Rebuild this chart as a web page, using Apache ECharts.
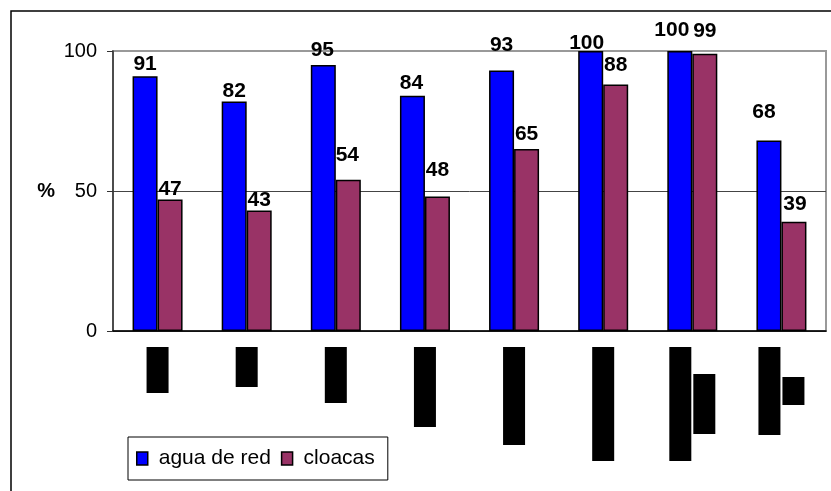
<!DOCTYPE html>
<html>
<head>
<meta charset="utf-8">
<script src="https://cdn.jsdelivr.net/npm/echarts@6/dist/echarts.min.js"></script>
<style>
  html, body { margin: 0; padding: 0; background: #fff; }
  #chart { width: 831px; height: 491px; }
</style>
</head>
<body>
<div id="chart"></div>
<script>
// category names are redacted (black boxes) in the original
const categories = ['Zona 1', 'Zona 2', 'Zona 3', 'Zona 4', 'Zona 5', 'Zona 6', 'Zona 7\nA', 'Zona 8\nB'];
const aguaDeRed = [91, 82, 95, 84, 93, 100, 100, 68];
const cloacas = [47, 43, 54, 48, 65, 88, 99, 39];
const yTicks = [0, 50, 100];

// styling: label nudges (as placed in the original) and length of the redaction boxes
const aguaOffsets = [[0, 0], [0, 1], [-1, -3], [-1, -1], [0, -14], [-4, 4], [-8, -9], [-5, -17]];
const cloacasOffsets = [[0, 1], [0, 1], [-1, -13], [0, -15], [0, -3], [0, -8], [0, -11], [1, -6]];
const boxLengths = [[46], [40], [56], [80], [98], [114], [114, 60], [88, 28]];

const FONT = "'Liberation Sans', Arial, sans-serif";

const rich = {};
boxLengths.forEach((lines, i) => {
  lines.forEach((len, j) => {
    rich['k' + i + '_' + j] = {
      width: len,
      height: 22,
      lineHeight: 24,
      backgroundColor: '#000',
      color: '#000',
      fontSize: 9,
      align: j === 0 ? 'right' : 'center'
    };
  });
});

function withOffsets(values, offsets) {
  return values.map((v, i) => ({ value: v, label: { offset: offsets[i] } }));
}

const chart = echarts.init(document.getElementById('chart'));

chart.setOption({
  animation: false,
  textStyle: { fontFamily: FONT },
  graphic: [{
    type: 'rect',
    z: -10,
    shape: { x: 11, y: 11, width: 2000, height: 2000 },
    style: { fill: 'none', stroke: '#000', lineWidth: 1.5 }
  }],
  grid: {
    left: 113, right: 5, top: 51, bottom: 160,
    show: true, borderColor: '#999', borderWidth: 2
  },
  legend: {
    left: 128, top: 437,
    padding: [11, 13, 11, 8],
    borderColor: '#000', borderWidth: 1,
    backgroundColor: '#fff',
    itemWidth: 11, itemHeight: 13, itemGap: 10,
    icon: 'rect',
    itemStyle: { borderColor: '#000', borderWidth: 1.5 },
    textStyle: { fontSize: 21, color: '#000', fontFamily: FONT, padding: [0, 0, 0, 6] },
    data: ['agua de red', 'cloacas']
  },
  xAxis: {
    type: 'category',
    data: categories,
    axisLine: { lineStyle: { color: '#000', width: 1.5 } },
    axisTick: { length: 6, lineStyle: { color: '#000', width: 1 } },
    axisLabel: {
      rotate: 90,
      margin: 16,
      interval: 0,
      rich: rich,
      formatter: function (name, idx) {
        return name.split('\n').map((line, j) => '{k' + idx + '_' + j + '|' + line + '}').join('\n');
      }
    }
  },
  yAxis: {
    type: 'value',
    min: yTicks[0], max: yTicks[yTicks.length - 1], interval: yTicks[1] - yTicks[0],
    name: '%',
    nameLocation: 'middle',
    nameRotate: 0,
    nameGap: 58,
    nameTextStyle: { fontSize: 20, fontWeight: 'bold', color: '#000', fontFamily: FONT },
    axisLine: { show: true, lineStyle: { color: '#333', width: 1.5 } },
    axisTick: { show: true, length: 6, lineStyle: { color: '#333', width: 1 } },
    axisLabel: { fontSize: 20, color: '#000', margin: 16, fontFamily: FONT },
    splitLine: { showMaxLine: false, lineStyle: { color: '#444', width: 1 } }
  },
  series: [
    {
      name: 'agua de red',
      type: 'bar',
      data: withOffsets(aguaDeRed, aguaOffsets),
      barWidth: 25,
      barGap: '0%',
      itemStyle: { color: '#0000FF', borderColor: '#000', borderWidth: 1.5 },
      label: {
        show: true, position: 'top', distance: 1,
        fontSize: 21, fontWeight: 'bold', color: '#000', fontFamily: FONT
      }
    },
    {
      name: 'cloacas',
      type: 'bar',
      data: withOffsets(cloacas, cloacasOffsets),
      barWidth: 25,
      itemStyle: { color: '#993366', borderColor: '#000', borderWidth: 1.5 },
      label: {
        show: true, position: 'top', distance: 1,
        fontSize: 21, fontWeight: 'bold', color: '#000', fontFamily: FONT
      }
    }
  ]
});
</script>
</body>
</html>
